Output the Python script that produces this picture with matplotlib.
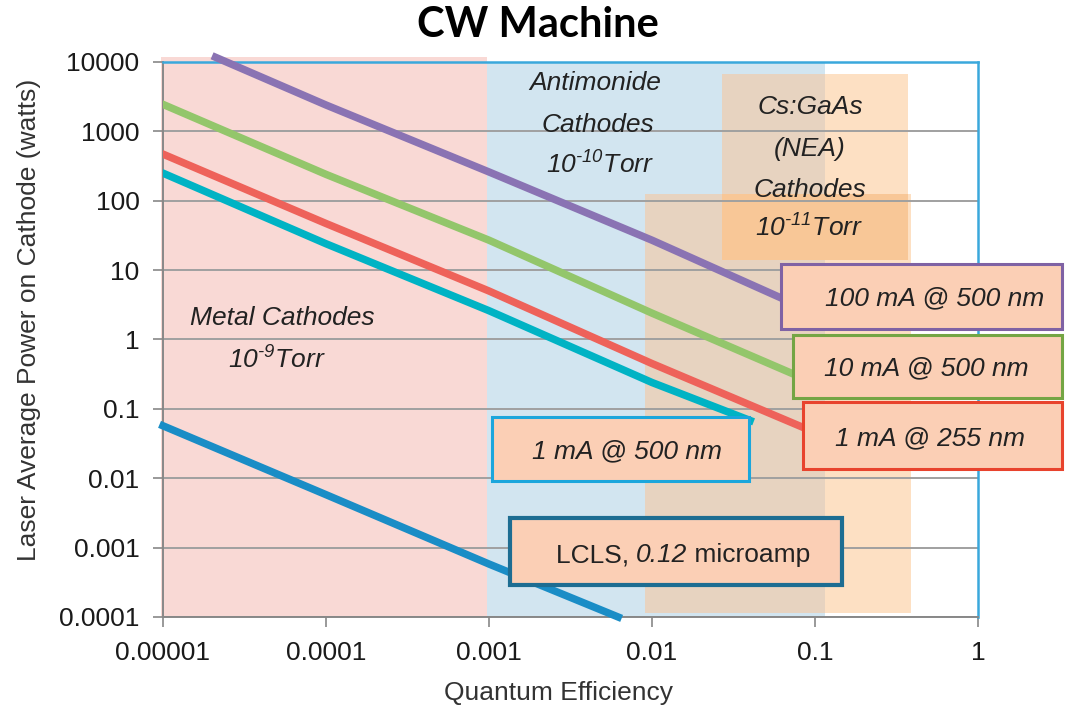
import matplotlib
matplotlib.use("Agg")
from matplotlib import pyplot as plt
from matplotlib.patches import Rectangle
from matplotlib.offsetbox import TextArea, HPacker, AnnotationBbox

# quantum efficiency / laser power values
qe_100ma = [2.1e-5, 1e-4, 1e-3, 1e-2, 0.063]
pw_100ma = [11700, 2400, 260, 27, 3.9]

qe_10ma = [1e-5, 1e-4, 1e-3, 1e-2, 0.071]
pw_10ma = [2450, 240, 27, 2.4, 0.33]

qe_1ma_255 = [1e-5, 1e-4, 1e-3, 1e-2, 0.083]
pw_1ma_255 = [470, 47, 5.0, 0.45, 0.055]

qe_1ma_500 = [1e-5, 1e-4, 1e-3, 1e-2, 0.040]
pw_1ma_500 = [250, 24, 2.6, 0.24, 0.068]

qe_lcls = [1e-5, 1e-4, 1e-3, 0.0062]
pw_lcls = [0.057, 0.0058, 0.00058, 0.0001]

x_ticks = [1e-5, 1e-4, 1e-3, 1e-2, 1e-1, 1]
x_labels = ["0.00001", "0.0001", "0.001", "0.01", "0.1", "1"]
y_ticks = [1e-4, 1e-3, 1e-2, 1e-1, 1, 10, 100, 1000, 10000]
y_labels = ["0.0001", "0.001", "0.01", "0.1", "1", "10", "100", "1000", "10000"]

# cathode regions (qe range, power range)
metal_qe = [0.97e-5, 0.00097]
metal_pw = [1e-4, 1.17e4]
antimonide_qe = [0.00097, 0.115]
antimonide_pw = [1e-4, 1e4]
gaas_qe = [0.0091, 0.388]
gaas_pw = [1.14e-4, 126]
gaas_label_qe = [0.0268, 0.372]
gaas_label_pw = [14.2, 6710]

plt.rcParams["font.family"] = ["Liberation Sans", "DejaVu Sans"]
plt.rcParams["mathtext.fontset"] = "custom"
plt.rcParams["mathtext.rm"] = "Liberation Sans:italic"
plt.rcParams["mathtext.it"] = "Liberation Sans:italic"

W, H = 1065, 706
fig = plt.figure(figsize=(W / 100, H / 100), dpi=100)
ax = fig.add_axes([163 / W, 89 / H, 815 / W, 555 / H])


def px(x, y):
    return x / W, 1 - y / H


def region(qe, pw, color, clip=True):
    r = Rectangle((qe[0], pw[0]), qe[1] - qe[0], pw[1] - pw[0],
                  facecolor=color, edgecolor="none", zorder=0.2, clip_on=clip)
    ax.add_patch(r)


ax.set_xscale("log")
ax.set_yscale("log")
ax.set_xlim(1e-5, 1)
ax.set_ylim(1e-4, 1e4)

# shaded regions, pieces drawn so the overlaps get their own colour
region(metal_qe, metal_pw, "#f9d9d5", clip=False)
region(antimonide_qe, antimonide_pw, "#d2e5f0")
region([gaas_qe[0], antimonide_qe[1]], gaas_pw, "#e7d3c0")
region([antimonide_qe[1], gaas_qe[1]], gaas_pw, "#fde0c3", clip=False)
region([gaas_label_qe[0], antimonide_qe[1]], gaas_label_pw, "#e7d3c0")
region([antimonide_qe[1], gaas_label_qe[1]], gaas_label_pw, "#fde0c3")
region(gaas_label_qe, [gaas_label_pw[0], gaas_pw[1]], "#f8c797")

ax.grid(True, axis="y", color="#a0a0a0", linewidth=1.4)
ax.grid(False, axis="x")
ax.set_axisbelow("line")

lw = 5.4
ax.plot(qe_100ma, pw_100ma, color="#8a73b3", linewidth=lw, zorder=3, clip_on=False)
ax.plot(qe_10ma, pw_10ma, color="#93c66b", linewidth=lw, zorder=3)
ax.plot(qe_1ma_255, pw_1ma_255, color="#ee625a", linewidth=lw, zorder=3)
ax.plot(qe_1ma_500, pw_1ma_500, color="#00b3c4", linewidth=lw, zorder=3)
ax.plot(qe_lcls, pw_lcls, color="#1a8dc6", linewidth=lw, zorder=3, clip_on=False)

ax.set_xticks(x_ticks)
ax.set_xticklabels(x_labels)
ax.set_yticks(y_ticks)
ax.set_yticklabels(y_labels)
ax.minorticks_off()
ax.tick_params(axis="both", labelsize=19, colors="#888888", length=7,
               width=1.2, direction="out", labelcolor="#1a1a1a")
ax.tick_params(axis="x", pad=10)
ax.tick_params(axis="y", pad=10)

for s in ["left", "bottom"]:
    ax.spines[s].set_color("#888888")
    ax.spines[s].set_linewidth(1.4)
for s in ["top", "right"]:
    ax.spines[s].set_color("#3aa8dc")
    ax.spines[s].set_linewidth(1.8)

fig.text(*px(538, 37), "CW Machine", family=["Lato", "DejaVu Sans"],
         weight="bold", fontsize=30, ha="center", va="baseline")
fig.text(*px(559, 693), "Quantum Efficiency", fontsize=19, ha="center",
         va="center", color="#333333")
fig.text(*px(29, 320), "Laser Average Power on Cathode (watts)", fontsize=19,
         rotation=90, ha="center", va="center", color="#333333")

# region labels (hyphen, not minus, in the exponents)
labels = [
    (282, 318, "Metal Cathodes"), (277, 360, "10$^{\u20109}$Torr"),
    (595, 83, "Antimonide"), (598, 125, "Cathodes"), (600, 165, "10$^{\u201010}$Torr"),
    (810, 107, "Cs:GaAs"), (810, 149, "(NEA)"), (810, 190, "Cathodes"),
    (809, 228, "10$^{\u201011}$Torr"),
]
for x, y, t in labels:
    fig.text(*px(x, y), t, fontsize=19, style="italic", ha="center",
             va="center", color="#222222", zorder=5)

# legend-like boxes
boxes = [
    (781, 1062, 264, 329, "#7f62a4", 2.2, 935, 298, "100 mA @ 500 nm"),
    (793, 1062, 335, 398, "#74a544", 2.2, 926, 368, "10 mA @ 500 nm"),
    (803, 1062, 402, 469, "#e8432d", 2.2, 930, 438, "1 mA @ 255 nm"),
    (492, 749, 417, 481, "#1ba6dc", 2.2, 627, 451, "1 mA @ 500 nm"),
    (510, 842, 518, 585, "#1d6d92", 3.0, None, None, None),
]
for x0, x1, y0, y1, ec, blw, tx, ty, t in boxes:
    r = Rectangle(px(x0, y1), (x1 - x0) / W, (y1 - y0) / H,
                  transform=fig.transFigure, facecolor="#fbcfb5",
                  edgecolor=ec, linewidth=blw, zorder=6, clip_on=False)
    ax.add_patch(r)
    if t:
        ax.text(*px(tx, ty), t, transform=fig.transFigure, fontsize=19,
                style="italic", ha="center", va="center", color="#222222",
                zorder=7)

lcls = HPacker(children=[
    TextArea("LCLS, ", textprops=dict(fontsize=19, color="#222222")),
    TextArea("0.12", textprops=dict(fontsize=19, style="italic", color="#222222")),
    TextArea(" microamp", textprops=dict(fontsize=19, color="#222222")),
], pad=0, sep=0, align="baseline")
ab = AnnotationBbox(lcls, px(683, 555), xycoords="figure fraction",
                    frameon=False, box_alignment=(0.5, 0.5), zorder=7)
ax.add_artist(ab)

plt.savefig("out.png", dpi=100)
